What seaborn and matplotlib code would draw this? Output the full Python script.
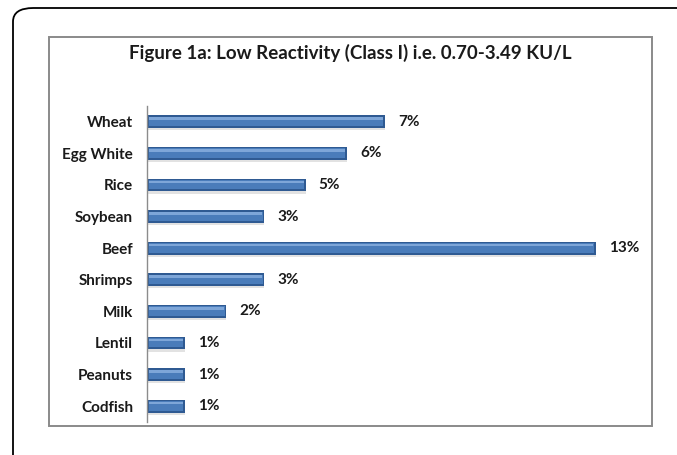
import matplotlib
matplotlib.use("Agg")
import matplotlib.pyplot as plt
from matplotlib.patches import FancyBboxPatch, Rectangle
import seaborn as sns
import pandas as pd
import numpy as np

# data (percent)
foods = ["Wheat", "Egg White", "Rice", "Soybean", "Beef",
         "Shrimps", "Milk", "Lentil", "Peanuts", "Codfish"]
percent = [6.9, 5.8, 4.6, 3.4, 13.0, 3.4, 2.3, 1.1, 1.1, 1.1]
title = "Figure 1a: Low Reactivity (Class I) i.e. 0.70-3.49 KU/L"

df = pd.DataFrame({"food": foods, "pct": percent})

sns.set_style("white")
plt.rcParams["font.family"] = ["Lato", "DejaVu Sans"]

W, H = 677, 455
fig = plt.figure(figsize=(W / 100, H / 100), dpi=100)

# axes placed in pixel coords of the reference
x0, x1 = 147, 640
y_top, y_bot = 106, 422
ax = fig.add_axes([x0 / W, 1 - y_bot / H, (x1 - x0) / W, (y_bot - y_top) / H])

pos = np.arange(len(foods))
# soft shadow under the bars
ax.barh(pos + 0.17, df["pct"], height=0.2, color="#cfcfcf", alpha=0.6,
        linewidth=0, zorder=1)

# main bar via seaborn (dark rim)
sns.barplot(data=df, y="food", x="pct", orient="h", color="#2f5a92",
            width=0.4, saturation=1, linewidth=0, ax=ax, zorder=2)
# body and highlight to mimic the cylinder look
ax.barh(pos - 0.01, df["pct"] - 0.1, left=0.05, height=0.3,
        color="#4a7cba", linewidth=0, zorder=3)
ax.barh(pos - 0.1, df["pct"] - 0.12, left=0.06, height=0.08,
        color="#7ea6d8", linewidth=0, zorder=4)

for i, v in enumerate(df["pct"]):
    ax.text(v + 0.38, i, f"{v:.0f}%", va="center", ha="left",
            fontsize=11, fontweight="bold", color="#1a1a1a")

ax.set_xlim(0, (x1 - x0) / 34.5)
ax.set_ylim(len(foods) - 0.5, -0.5)
ax.set_xlabel("")
ax.set_ylabel("")
ax.set_xticks([])
ax.tick_params(axis="y", length=0, pad=10)
for lab in ax.get_yticklabels():
    lab.set_fontweight("bold")
    lab.set_fontsize(11)
    lab.set_color("#1a1a1a")
for s in ["top", "right", "bottom"]:
    ax.spines[s].set_visible(False)
ax.spines["left"].set_color("#8c8c8c")
ax.spines["left"].set_linewidth(1.0)

# inner chart frame
fig.patches.append(Rectangle((49 / W, 1 - 426 / H), (652 - 49) / W, (426 - 37) / H,
                             transform=fig.transFigure, fill=False,
                             edgecolor="#8a8a8a", linewidth=1.4))
# outer rounded frame (runs off the right and bottom edges)
fig.patches.append(FancyBboxPatch((13 / W, -0.2), (720 - 13) / W, 1.2 - 8 / H,
                                  boxstyle="round,pad=0,rounding_size=0.03",
                                  transform=fig.transFigure, fill=False,
                                  edgecolor="black", linewidth=1.3))

fig.text(350 / W, 1 - 53 / H, title, ha="center", va="center",
         fontsize=13.5, fontweight="bold", color="#1a1a1a")

fig.savefig("out.png", dpi=100)
